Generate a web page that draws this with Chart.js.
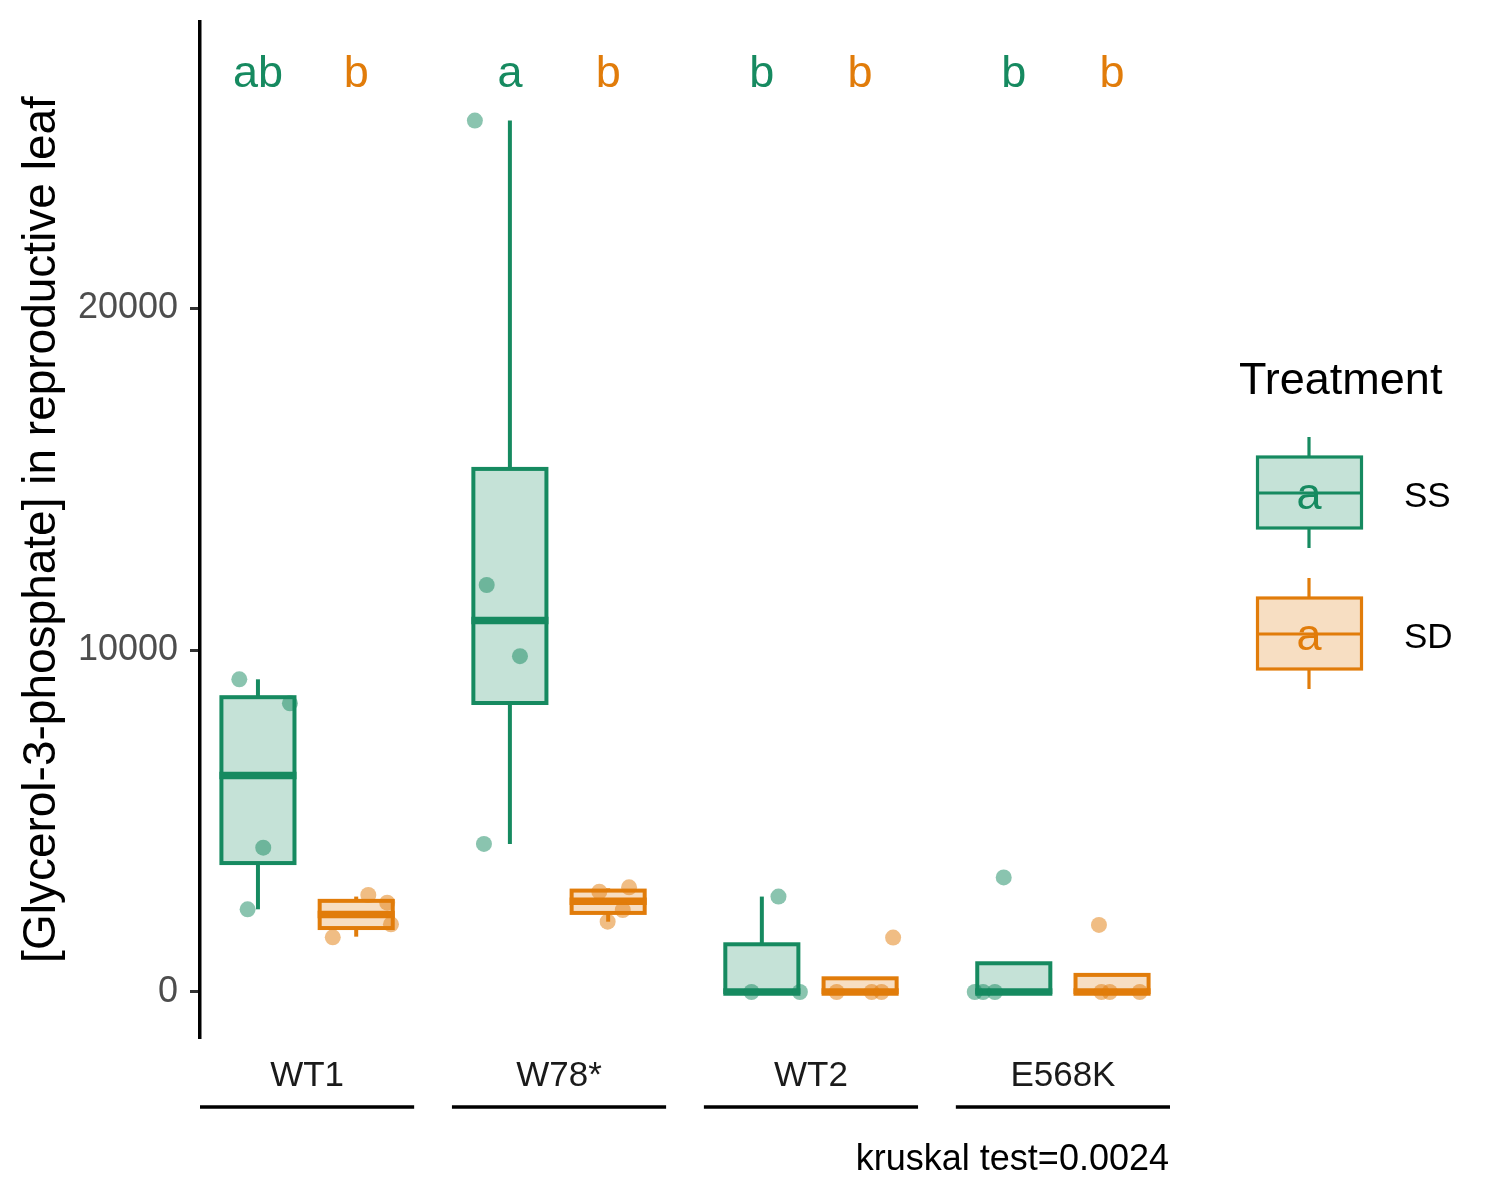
<!DOCTYPE html>
<html>
<head>
<meta charset="utf-8">
<script src="https://cdn.jsdelivr.net/npm/chart.js@4.4.1/dist/chart.umd.min.js"></script>
<style>
  body { margin: 0; background: #fff; }
  #wrap { width: 1500px; height: 1200px; }
</style>
</head>
<body>
<div id="wrap"><canvas id="chart"></canvas></div>
<script>
// genotypes along the x axis
const genotypes = ['WT1', 'W78*', 'WT2', 'E568K'];
const treatments = ['SS', 'SD'];

const ssValues = [
  [9143, 8441, 4220, 2418],
  [25480, 11900, 9820, 4330],
  [0, 0, 2790],
  [0, 0, 0, 3350]
];
const sdValues = [
  [2836, 2611, 1978, 1599],
  [2933, 3061, 2398, 2056],
  [0, 0, 0, 1590],
  [0, 0, 0, 1960]
];
// horizontal jitter of each point (category units, from the box centre)
const ssJitter = [
  [-0.074, 0.127, 0.021, -0.041],
  [-0.139, -0.092, 0.040, -0.103],
  [-0.041, 0.151, 0.066],
  [-0.155, -0.122, -0.075, -0.040]
];
const sdJitter = [
  [0.048, 0.123, 0.138, -0.093],
  [-0.035, 0.083, 0.058, -0.002],
  [-0.093, 0.046, 0.085, 0.131],
  [-0.042, -0.009, 0.110, -0.052]
];

// box summaries: [lower whisker, q1, median, q3, upper whisker]
const ssBoxes = [
  [2418, 3770, 6330, 8620, 9143],
  [4330, 8450, 10860, 15295, 25480],
  [0, 0, 0, 1395, 2790],
  [0, 0, 0, 840, 840]
];
const sdBoxes = [
  [1618, 1870, 2265, 2665, 2790],
  [2056, 2312, 2650, 2965, 3030],
  [0, 0, 0, 400, 400],
  [0, 0, 0, 500, 500]
];

// letters above each box
const ssLetters = ['ab', 'a', 'b', 'b'];
const sdLetters = ['b', 'b', 'b', 'b'];

const yTicks = [0, 10000, 20000];
const kruskalText = 'kruskal test=0.0024';

const FONT = "'Liberation Sans', Arial, sans-serif";
const col = {
  SS: { line: 'rgb(22,138,96)', fill: 'rgba(22,138,96,0.25)', pt: 'rgba(22,138,96,0.5)' },
  SD: { line: 'rgb(225,124,10)', fill: 'rgba(225,124,10,0.25)', pt: 'rgba(225,124,10,0.5)' }
};
const dodge = 0.195;
const halfBox = 0.145;
const letterLevel = 26460;

function pts(values, jitter, off) {
  const out = [];
  values.forEach((vals, i) => {
    vals.forEach((v, j) => out.push({ x: i + 1 + off + jitter[i][j], y: v }));
  });
  return out;
}

function seg(ctx, x1, y1, x2, y2) {
  ctx.beginPath();
  ctx.moveTo(x1, y1);
  ctx.lineTo(x2, y2);
  ctx.stroke();
}

function drawKey(ctx, c, top) {
  // little boxplot glyph used in the legend
  const l = 1257.5, r = 1361.5, cx = 1309;
  ctx.lineWidth = 3.2;
  ctx.strokeStyle = c.line;
  seg(ctx, cx, top, cx, top + 20);
  seg(ctx, cx, top + 91, cx, top + 111);
  ctx.fillStyle = c.fill;
  ctx.fillRect(l, top + 20, r - l, 71);
  ctx.strokeRect(l, top + 20, r - l, 71);
  seg(ctx, l, top + 56, r, top + 56);
  ctx.fillStyle = c.line;
  ctx.font = '45px ' + FONT;
  ctx.textAlign = 'center';
  ctx.textBaseline = 'alphabetic';
  ctx.fillText('a', cx, top + 72);
}

const boxPlugin = {
  id: 'boxes',
  beforeDatasetsDraw(chart) {
    const { ctx, scales: { x, y } } = chart;
    ctx.save();
    [[ssBoxes, -dodge, col.SS], [sdBoxes, dodge, col.SD]].forEach(([boxes, off, c]) => {
      boxes.forEach((b, i) => {
        const cx = x.getPixelForValue(i + 1 + off);
        const l = x.getPixelForValue(i + 1 + off - halfBox);
        const r = x.getPixelForValue(i + 1 + off + halfBox);
        const [lo, q1, med, q3, hi] = b.map(v => y.getPixelForValue(v));
        ctx.strokeStyle = c.line;
        ctx.lineWidth = 4;
        if (hi < q3) seg(ctx, cx, hi, cx, q3);
        if (lo > q1) seg(ctx, cx, q1, cx, lo);
        ctx.fillStyle = c.fill;
        ctx.fillRect(l, q3, r - l, q1 - q3);
        ctx.strokeRect(l, q3, r - l, q1 - q3);
        ctx.lineWidth = 7.5;
        seg(ctx, l - 2, med, r + 2, med);
      });
    });
    ctx.restore();
  },
  afterDraw(chart) {
    const { ctx, chartArea, scales: { x, y } } = chart;
    ctx.save();
    // significance letters
    ctx.font = '45px ' + FONT;
    ctx.textAlign = 'center';
    ctx.textBaseline = 'alphabetic';
    const ly = y.getPixelForValue(letterLevel);
    genotypes.forEach((g, i) => {
      ctx.fillStyle = col.SS.line;
      ctx.fillText(ssLetters[i], x.getPixelForValue(i + 1 - dodge), ly);
      ctx.fillStyle = col.SD.line;
      ctx.fillText(sdLetters[i], x.getPixelForValue(i + 1 + dodge), ly);
    });
    // bars under the genotype names
    ctx.strokeStyle = '#000';
    ctx.lineWidth = 3.5;
    genotypes.forEach((g, i) => {
      seg(ctx, x.getPixelForValue(i + 1 - 0.425), chartArea.bottom + 70,
               x.getPixelForValue(i + 1 + 0.425), chartArea.bottom + 70);
    });
    // caption
    ctx.fillStyle = '#000';
    ctx.font = '36px ' + FONT;
    ctx.textAlign = 'right';
    ctx.fillText(kruskalText, chartArea.right - 1, chartArea.bottom + 133);
    // legend
    ctx.textAlign = 'left';
    ctx.font = '45px ' + FONT;
    ctx.fillText('Treatment', 1239, 394);
    drawKey(ctx, col.SS, 437);
    drawKey(ctx, col.SD, 578);
    ctx.fillStyle = '#000';
    ctx.textAlign = 'left';
    ctx.font = '35px ' + FONT;
    ctx.fillText(treatments[0], 1404, 507);
    ctx.fillText(treatments[1], 1404, 648);
    ctx.restore();
  }
};

new Chart(document.getElementById('chart'), {
  type: 'scatter',
  data: {
    datasets: [
      { label: 'SS', data: pts(ssValues, ssJitter, -dodge), backgroundColor: col.SS.pt, borderWidth: 0, pointRadius: 8, pointHoverRadius: 8 },
      { label: 'SD', data: pts(sdValues, sdJitter, dodge), backgroundColor: col.SD.pt, borderWidth: 0, pointRadius: 8, pointHoverRadius: 8 }
    ]
  },
  options: {
    responsive: true,
    maintainAspectRatio: false,
    animation: false,
    layout: { padding: { top: 22, right: 330, bottom: 0, left: 0 } },
    plugins: { legend: { display: false }, tooltip: { enabled: false } },
    scales: {
      x: {
        type: 'linear',
        min: 0.575,
        max: 4.425,
        afterBuildTicks: s => { s.ticks = genotypes.map((g, i) => ({ value: i + 1 })); },
        afterFit: s => { s.height = 163; s.paddingLeft = 0; s.paddingRight = 0; },
        border: { display: false },
        grid: { display: false, drawTicks: false },
        ticks: {
          autoSkip: false, maxRotation: 0, minRotation: 0, padding: 18,
          color: '#1a1a1a', font: { family: FONT, size: 35 },
          callback: v => genotypes[v - 1]
        }
      },
      y: {
        min: -1316,
        max: 28363,
        afterBuildTicks: s => { s.ticks = yTicks.map(v => ({ value: v })); },
        afterFit: s => { s.width = 200; s.paddingTop = 0; s.paddingBottom = 0; },
        border: { display: true, color: '#000', width: 3.5 },
        grid: { drawOnChartArea: false, drawTicks: true, tickLength: 10, color: '#333', lineWidth: 3 },
        ticks: { padding: 12, color: '#4d4d4d', font: { family: FONT, size: 36 }, callback: v => String(v) },
        title: {
          display: true,
          text: '[Glycerol-3-phosphate] in reproductive leaf',
          color: '#000',
          font: { family: FONT, size: 46 },
          padding: { top: 15, bottom: 0 }
        }
      }
    }
  },
  plugins: [boxPlugin]
});
</script>
</body>
</html>
